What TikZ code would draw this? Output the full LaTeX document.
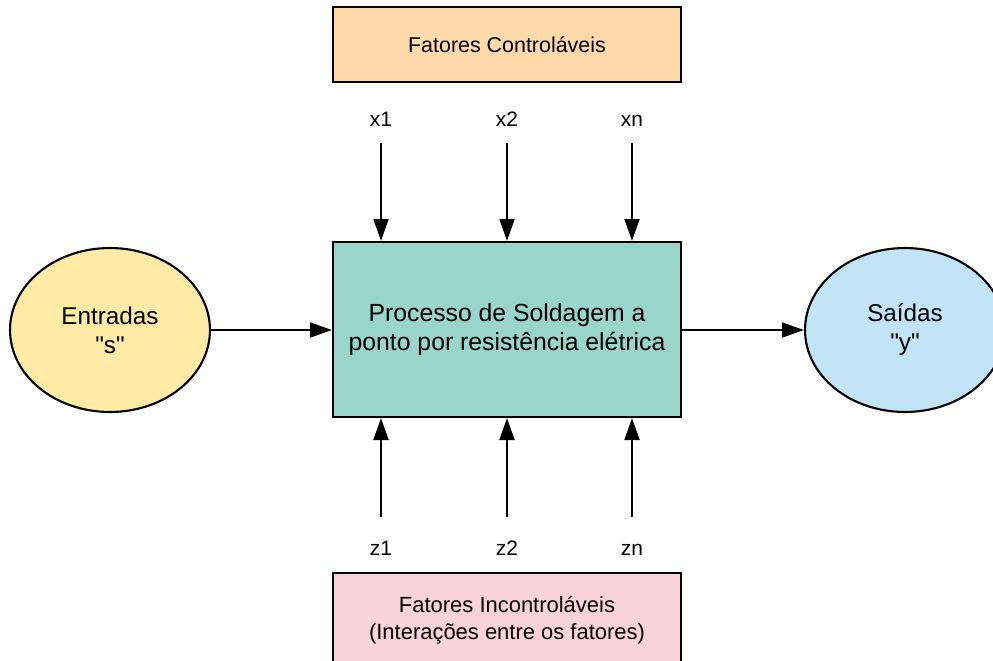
\documentclass[tikz,border=0pt]{standalone}
\usepackage{fontspec}
\setmainfont{Liberation Sans}
\usetikzlibrary{shapes.geometric,arrows.meta}
\definecolor{laranja}{HTML}{FFD9AA}
\definecolor{verdeagua}{HTML}{99D5CA}
\definecolor{amarelo}{HTML}{FFEBA6}
\definecolor{azul}{HTML}{C1E4F7}
\definecolor{rosa}{HTML}{F9D2DE}
\begin{document}
\begin{tikzpicture}[x=0.02cm, y=-0.02cm,
		caixa/.style={draw, line width=1.2pt, minimum width=6.96cm, align=center, inner sep=0pt},
		oval/.style={ellipse, draw, line width=1.2pt, minimum width=4cm, minimum height=3.28cm, align=center, font=\fontsize{13.8}{16.5}\selectfont},
		rotulo/.style={inner sep=0pt, anchor=base, font=\fontsize{11.9}{14}\selectfont},
		seta/.style={line width=1.2pt, -{Triangle[length=12.5pt, width=8.5pt]}}]
		\useasboundingbox (0,0) rectangle (993,660);
		\node[caixa, fill=laranja, minimum height=1.5cm, font=\fontsize{12.2}{14}\selectfont] (ctrl) at (507,44.5) {Fatores Controláveis};
		\node[caixa, fill=verdeagua, minimum height=3.5cm, font=\fontsize{14.1}{16.5}\selectfont] (proc) at (507,329.5) {Processo de Soldagem a\\ponto por resistência elétrica};
		\node[caixa, fill=rosa, minimum height=1.88cm, anchor=north, font=\fontsize{12.5}{15.3}\selectfont] (inc) at (507,572) {Fatores Incontroláveis\\(Interações entre os fatores)};
		\node[oval, fill=amarelo] (ent) at (110,330) {Entradas\\\textquotedbl s\textquotedbl};
		\node[oval, fill=azul] (sai) at (905,330) {Saídas\\\textquotedbl y\textquotedbl};
		\draw[seta] (ent.east) -- (ent.east -| proc.west);
		\draw[seta] (proc.east |- sai.west) -- (sai.west);
		\foreach \n/\px in {1/381, 2/507, n/632} {
			\node[rotulo] (x\n) at (\px,126) {x\n};
			\node[rotulo] (z\n) at (\px,555) {z\n};
			\draw[seta, shorten <=0.34cm] (x\n.base) -- (x\n |- proc.north);
			\draw[seta, shorten <=0.76cm] (z\n.base) -- (z\n |- proc.south);
		}
	\end{tikzpicture}
\end{document}
